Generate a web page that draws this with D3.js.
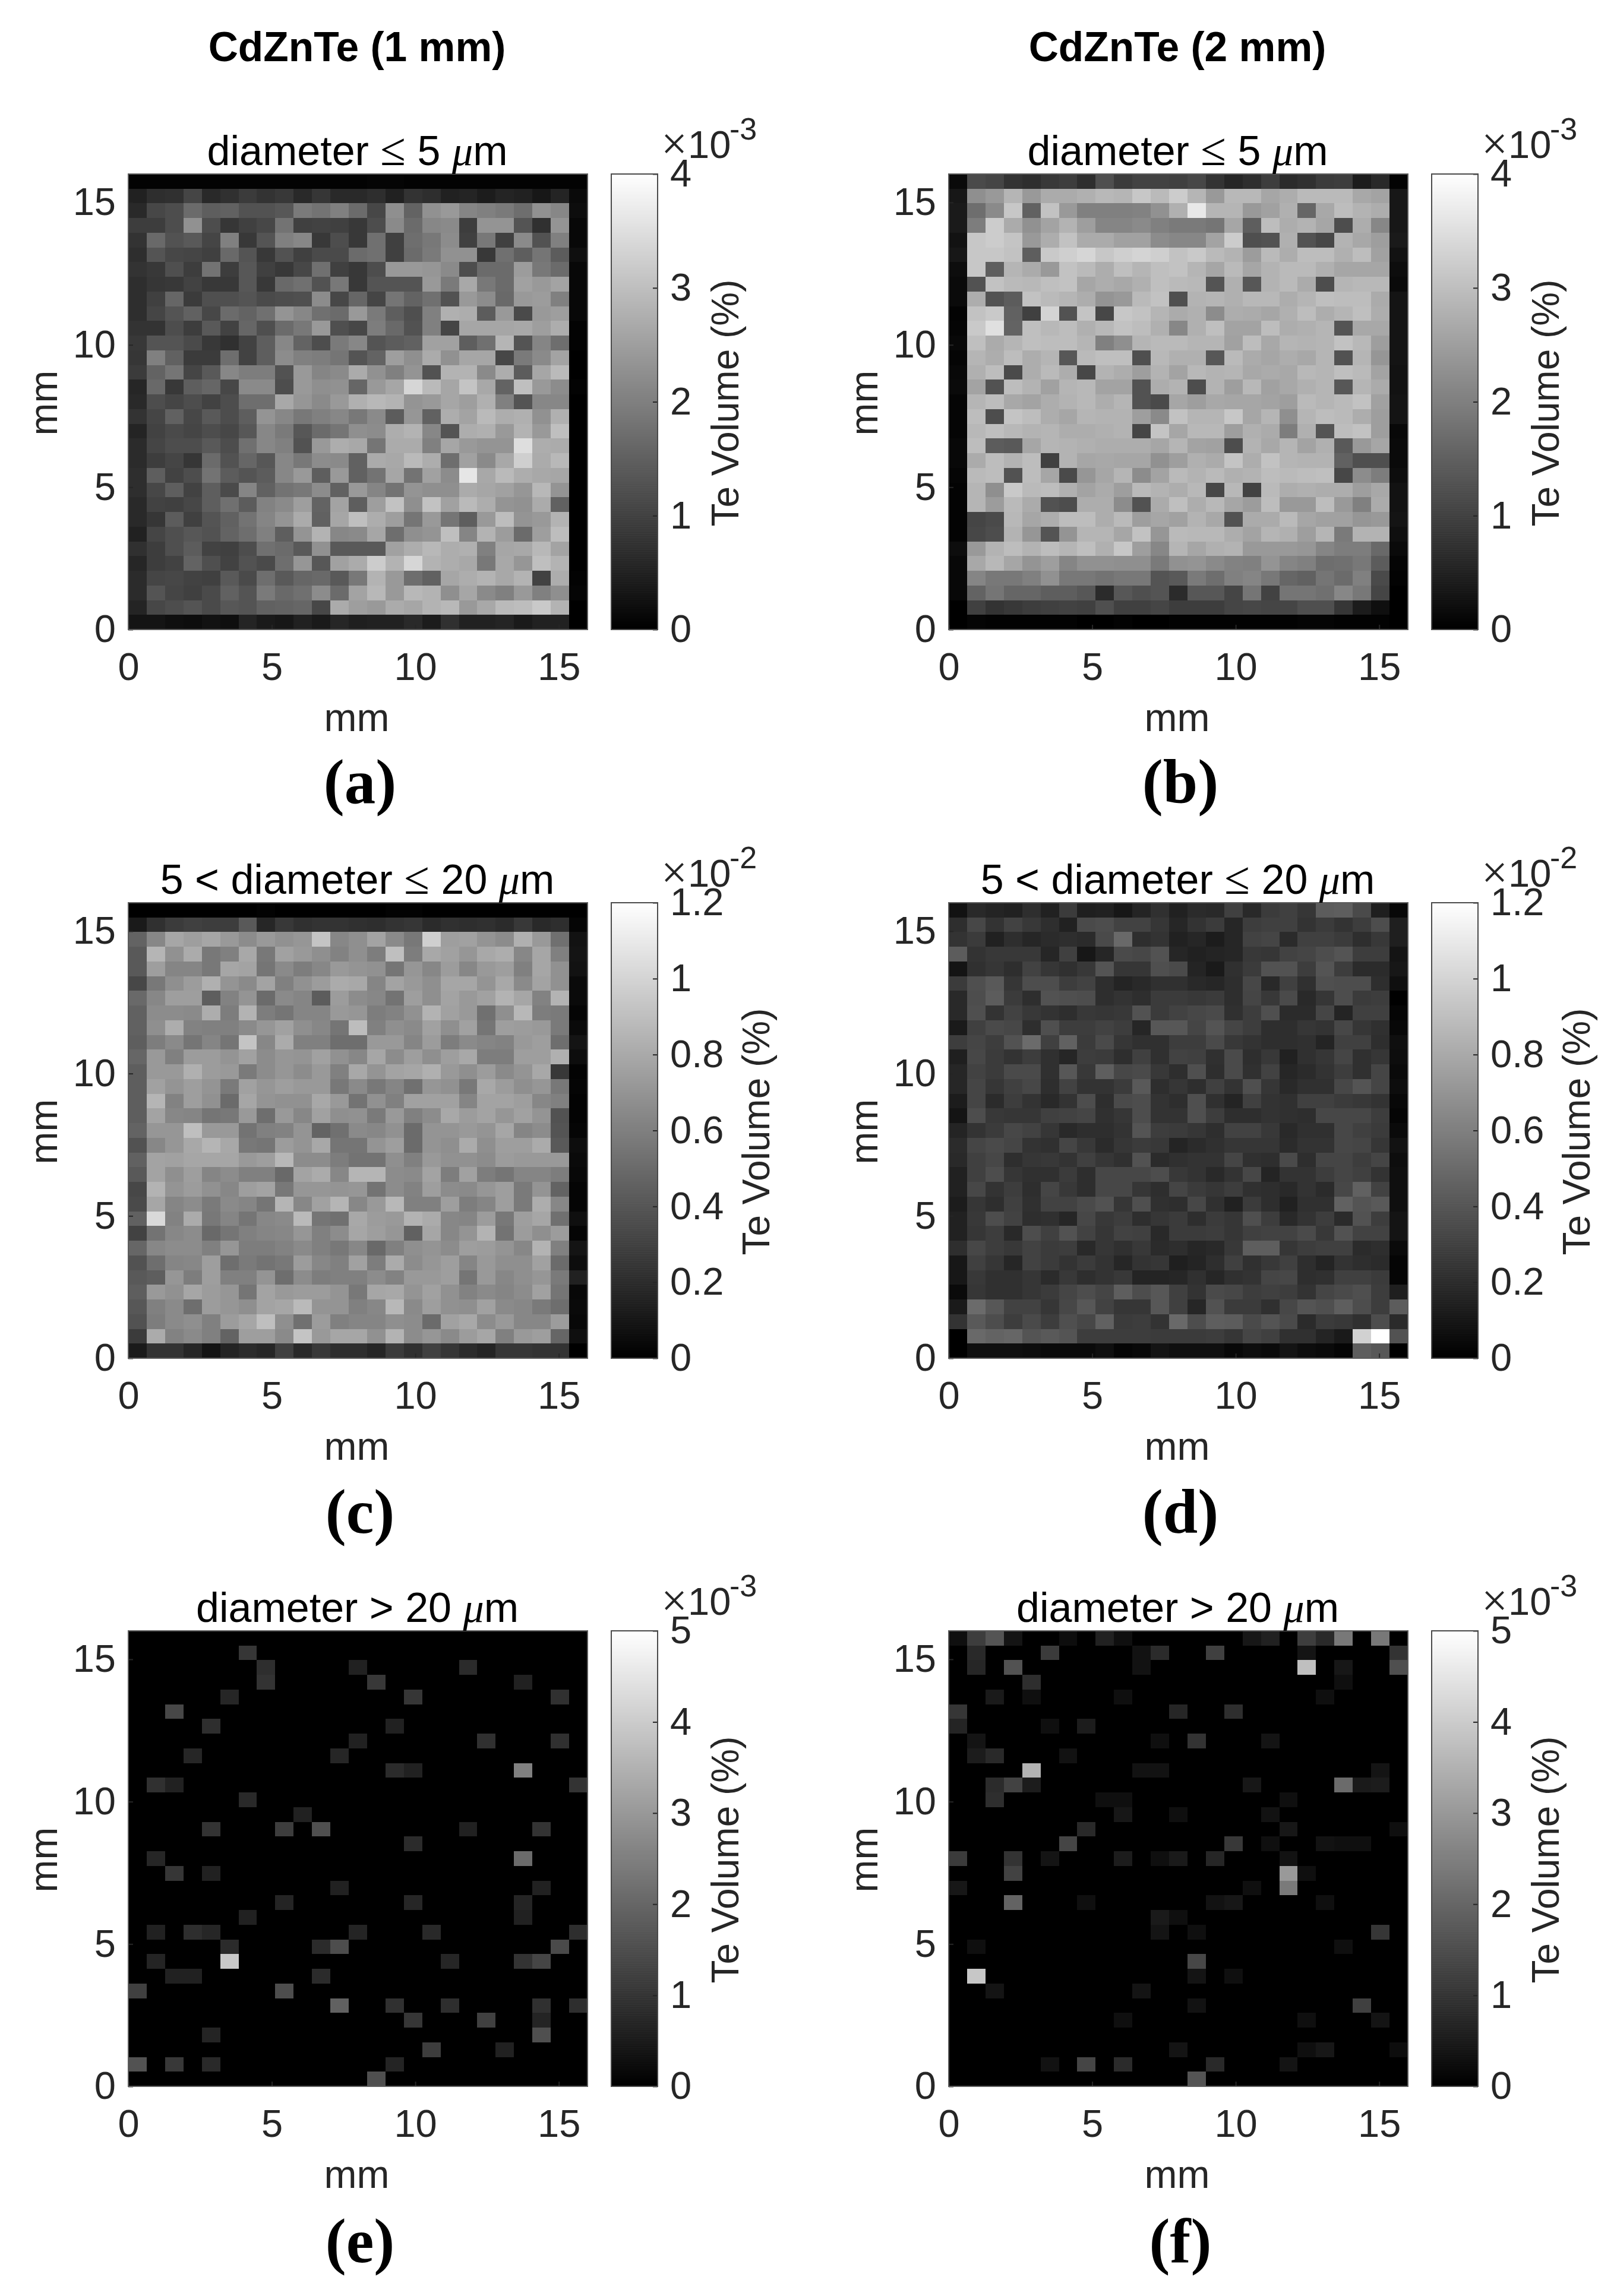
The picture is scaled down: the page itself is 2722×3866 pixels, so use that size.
<!DOCTYPE html>
<html><head><meta charset="utf-8">
<script src="https://cdn.jsdelivr.net/npm/d3@7/dist/d3.min.js"></script>
<style>html,body{margin:0;padding:0;background:#fff}svg{display:block}</style>
</head><body><svg id="chart" width="2722" height="3866"></svg>
<script>
// Every value is the shade, as a percentage of that panel's colorbar range.
const valuesA = [
[1,1,1,1,1,1,1,1,1,1,1,1,1,2,2,1,1,1,1,1,1,1,1,1,1],
[13,18,19,27,16,19,23,20,22,16,21,16,16,18,13,20,18,13,14,11,14,13,9,14,4],
[16,28,30,42,37,38,32,32,34,48,45,50,42,28,56,39,57,60,52,50,48,43,57,53,5],
[24,24,30,57,30,21,25,28,45,25,26,25,22,30,54,42,53,54,24,58,58,33,19,58,3],
[20,41,32,35,27,50,22,33,50,53,22,30,22,44,25,43,47,55,25,47,25,54,32,50,3],
[18,33,28,27,25,41,33,22,32,25,29,29,42,44,25,42,48,57,57,22,44,37,46,36,6],
[20,22,31,24,45,24,34,25,22,28,44,25,22,30,60,60,59,54,30,42,42,61,47,42,3],
[18,21,22,26,22,22,34,22,41,44,32,47,22,33,33,33,60,48,66,47,42,63,60,64,3],
[18,25,40,23,31,31,33,29,30,31,55,28,40,27,46,39,44,32,60,55,41,60,61,50,3],
[18,27,33,38,28,42,39,44,58,53,44,42,60,48,37,31,50,69,68,36,60,29,60,62,3],
[20,20,30,24,35,26,40,31,42,47,60,31,28,49,41,32,50,27,65,65,65,66,62,68,1],
[22,33,33,29,22,19,26,37,53,39,30,48,53,33,36,38,63,63,37,44,71,33,52,43,1],
[21,50,38,23,23,43,26,37,55,50,49,46,33,39,62,56,67,57,65,65,28,48,54,64,0],
[23,39,46,27,35,53,49,49,32,60,52,54,67,57,50,58,32,70,70,54,68,36,65,73,0],
[15,41,22,37,40,28,54,54,30,60,56,57,40,60,65,84,73,65,77,66,39,75,60,55,1],
[16,30,27,30,26,30,43,43,66,59,54,60,69,72,70,58,60,65,62,69,50,33,53,53,0],
[20,27,38,28,35,30,37,58,53,47,50,53,47,54,36,59,38,68,64,73,68,69,57,69,0],
[14,26,29,27,30,28,34,53,48,34,42,46,56,55,68,70,53,33,68,69,60,70,60,75,0],
[17,27,30,30,35,30,44,53,50,32,60,68,66,46,67,67,50,65,60,58,58,87,68,67,0],
[17,24,27,21,42,32,40,34,53,47,55,54,38,67,66,73,68,43,63,54,66,81,67,72,0],
[18,37,26,30,45,36,33,36,53,60,37,60,38,45,65,45,63,55,90,66,73,68,66,65,0],
[18,28,37,26,37,29,52,38,45,47,55,38,60,52,45,58,56,56,67,65,63,59,72,58,0],
[16,26,25,28,37,44,36,51,54,62,39,64,37,62,76,56,76,63,73,68,58,57,67,38,0],
[16,21,36,25,33,38,45,52,58,67,38,65,75,68,62,46,60,46,37,60,74,58,60,70,0],
[13,27,31,34,32,39,43,50,37,58,70,53,54,65,43,56,58,75,52,70,61,42,62,74,0],
[19,24,31,36,26,25,30,44,42,35,57,35,35,35,63,68,72,68,69,50,65,66,72,64,0],
[15,24,26,39,31,26,32,29,43,59,34,63,67,80,70,84,70,68,66,47,66,59,75,70,0],
[17,27,28,26,25,35,29,43,35,40,41,35,47,70,60,43,38,65,68,70,66,70,26,68,1],
[17,33,27,25,29,38,33,48,41,44,55,42,64,72,60,72,70,56,65,54,50,60,50,56,2],
[14,28,30,33,29,34,33,38,39,40,28,67,62,60,67,65,70,72,60,66,73,74,79,70,0],
[8,8,6,5,7,6,14,10,9,13,10,15,12,13,13,16,11,19,13,13,14,10,13,13,0]];
const valuesB = [
[4,29,27,20,18,22,24,18,31,23,26,26,25,28,20,15,18,24,17,19,23,24,11,16,1],
[9,56,60,71,60,67,67,69,72,71,78,73,80,71,60,72,72,65,68,73,73,73,66,64,9],
[10,43,54,78,38,76,60,50,50,50,51,57,69,91,71,71,60,63,69,40,66,74,70,68,9],
[10,49,80,67,57,64,70,62,52,52,54,50,48,48,46,65,37,74,68,70,65,30,68,53,9],
[7,78,80,77,60,68,76,67,67,63,63,55,53,53,64,80,31,32,69,32,28,70,66,62,10],
[9,78,78,76,37,79,81,84,78,81,83,81,76,79,73,70,61,73,68,74,74,69,74,63,7],
[5,78,37,71,67,60,76,73,68,75,71,75,76,71,65,73,65,70,73,73,69,65,65,65,5],
[4,32,76,73,72,75,76,65,68,66,69,75,73,72,33,69,34,70,73,67,30,71,72,72,4],
[4,68,32,36,76,73,71,68,58,60,73,76,31,70,71,69,72,72,68,71,75,74,74,67,8],
[1,76,79,38,25,83,32,77,28,78,76,71,67,69,55,68,67,65,69,74,68,71,75,68,8],
[2,79,88,39,75,72,74,69,72,76,74,69,53,69,75,64,64,74,68,69,71,33,66,66,8],
[3,75,67,71,75,74,74,71,50,56,71,73,73,71,71,63,74,66,71,70,71,76,72,62,8],
[2,71,68,74,68,71,34,73,75,75,31,72,69,69,34,73,67,65,68,66,71,32,71,59,8],
[3,69,74,29,68,73,68,28,70,68,62,70,64,72,70,71,66,67,66,72,71,75,73,64,7],
[4,64,32,74,70,63,71,72,64,64,32,68,70,30,70,62,72,63,66,69,71,34,71,67,7],
[2,71,74,66,64,68,70,72,68,71,32,29,65,62,66,65,65,64,62,73,71,73,76,63,8],
[2,74,30,77,74,68,65,71,70,70,62,54,76,71,71,78,65,71,56,71,74,73,68,62,8],
[2,72,75,72,70,71,68,68,69,70,27,77,65,72,72,62,69,67,49,69,33,74,76,62,3],
[3,74,36,35,65,71,70,69,68,68,68,65,71,64,63,30,70,66,71,64,69,35,60,65,4],
[3,67,74,70,74,25,70,65,66,65,65,57,62,69,67,77,68,76,71,70,70,38,31,31,4],
[2,73,74,32,74,65,29,59,65,71,55,64,73,70,73,69,70,74,73,74,75,28,55,49,5],
[1,71,56,79,73,74,69,64,67,62,73,70,68,72,28,72,26,73,68,69,68,68,62,66,7],
[1,71,61,73,67,32,30,68,68,55,32,67,75,68,72,65,61,74,60,60,74,60,50,67,7],
[1,27,29,72,65,68,74,74,68,73,62,65,63,70,66,32,67,67,73,65,63,63,59,60,8],
[1,28,30,70,59,33,58,71,71,65,76,59,73,72,72,68,64,71,69,62,71,48,70,70,6],
[5,60,70,74,70,74,71,75,69,78,62,53,71,65,69,70,60,60,60,59,52,49,49,41,4],
[3,66,72,65,58,62,52,57,57,56,56,48,57,58,54,51,50,58,52,50,43,44,47,36,2],
[3,52,47,47,50,57,47,47,45,47,47,33,35,48,43,50,52,47,40,38,46,42,50,29,1],
[3,39,46,40,40,37,37,34,17,34,31,33,17,34,34,27,46,26,46,46,44,53,47,27,0],
[0,25,20,22,24,25,26,25,31,25,25,27,24,24,24,27,28,27,27,31,31,21,11,6,0],
[0,2,1,1,1,1,1,0,0,1,0,0,1,1,1,1,1,1,1,2,2,1,1,1,0]];
const valuesC = [
[0,0,0,0,0,0,0,1,0,0,0,0,0,0,1,1,0,0,0,0,0,0,0,0,0],
[10,19,23,25,24,24,35,15,22,19,20,20,19,18,20,21,17,19,18,19,17,22,16,18,2],
[39,53,65,62,65,60,55,60,57,59,77,53,56,64,54,47,81,62,63,58,55,69,60,44,7],
[35,71,57,67,47,50,66,47,63,60,56,51,56,49,75,49,66,63,59,66,68,53,65,50,8],
[35,62,52,52,47,65,64,46,54,49,53,60,58,57,46,59,53,61,53,60,62,50,65,57,7],
[28,47,56,61,69,58,54,64,50,57,61,67,66,52,64,60,56,65,65,58,66,54,64,57,4],
[41,53,62,62,37,51,58,42,54,52,36,61,55,53,45,62,56,64,60,63,70,65,51,70,4],
[38,55,55,54,68,49,70,49,46,52,52,60,59,49,51,57,70,63,60,44,56,72,49,48,2],
[38,56,68,51,50,50,54,59,63,56,53,46,74,50,56,54,63,56,63,46,62,61,60,48,4],
[37,49,54,46,52,46,77,53,67,50,50,43,43,60,60,52,61,49,54,52,51,60,62,43,8],
[40,60,50,61,61,58,63,55,59,58,63,57,53,65,55,62,56,62,66,49,49,62,62,69,5],
[37,60,60,69,61,60,48,55,59,55,60,50,66,58,64,65,69,60,56,61,54,58,66,22,1],
[37,63,58,62,58,48,63,59,62,60,60,47,54,47,52,44,59,57,47,66,61,56,59,47,2],
[37,71,51,62,57,42,65,58,57,57,66,60,45,57,50,63,63,63,52,64,64,62,53,50,1],
[37,64,53,52,46,47,60,43,60,53,63,56,57,48,60,50,55,66,61,64,59,63,58,32,1],
[39,59,59,75,60,60,45,50,51,58,39,44,54,53,57,42,58,58,60,58,65,52,55,33,2],
[32,53,59,66,71,66,47,46,61,58,66,46,46,58,62,42,58,56,67,56,62,62,67,35,5],
[38,64,63,65,65,65,60,62,72,55,55,49,45,45,56,50,60,57,57,55,61,60,60,60,4],
[35,64,56,62,52,55,50,50,41,64,67,53,71,71,55,54,64,49,63,49,46,52,52,49,3],
[28,70,58,61,57,53,62,64,47,59,59,58,59,45,55,51,62,55,54,59,62,48,58,39,2],
[29,65,52,55,48,54,52,46,71,53,63,71,53,60,72,50,50,62,49,52,62,48,68,53,2],
[38,85,51,67,47,52,46,53,54,73,46,44,66,61,60,70,67,53,52,61,47,62,65,44,6],
[26,45,53,55,41,46,50,52,53,59,50,55,65,62,59,38,65,53,58,70,45,61,56,61,2],
[40,53,55,55,50,59,49,49,51,54,50,47,53,41,50,56,58,55,62,61,58,53,70,50,8],
[32,43,52,53,62,43,48,45,47,61,53,50,63,49,67,55,59,62,52,60,56,56,63,42,5],
[35,37,59,49,62,50,50,58,43,55,49,50,50,55,51,60,60,62,46,60,53,56,59,48,13],
[37,60,57,65,61,59,46,64,60,61,61,58,47,65,66,58,63,57,51,54,52,55,63,46,3],
[34,50,54,43,61,59,56,64,65,73,58,58,50,53,72,54,62,57,56,63,54,53,48,43,4],
[32,49,54,56,50,61,65,75,56,44,61,50,52,52,56,55,42,63,66,55,60,53,53,61,3],
[23,67,51,54,50,39,62,62,54,77,60,65,65,57,70,55,59,54,61,65,50,60,62,40,6],
[10,20,20,15,8,14,17,15,25,16,22,18,18,15,23,19,25,21,17,14,21,21,20,20,0]];
const valuesD = [
[7,16,14,13,18,13,23,12,13,9,14,19,13,17,16,25,16,23,25,21,36,37,29,12,3],
[18,28,20,26,22,18,13,29,30,26,26,21,15,20,23,15,24,25,25,20,23,20,24,30,12],
[20,23,13,18,15,17,18,17,29,41,18,20,13,15,11,15,26,27,17,25,25,23,18,22,12],
[36,20,22,22,22,15,25,9,15,29,28,32,15,13,14,15,22,21,26,27,30,33,24,24,8],
[8,19,21,18,26,21,19,22,33,21,21,31,29,14,10,19,23,32,32,24,33,24,17,17,9],
[23,31,35,21,30,30,24,26,18,14,16,19,19,16,15,18,28,16,25,19,31,30,30,18,6],
[16,30,36,23,18,32,31,30,18,20,18,23,23,22,23,18,27,22,29,16,21,30,23,24,0],
[16,31,20,26,22,20,18,22,21,22,32,23,26,28,29,19,24,31,17,17,27,14,25,25,2],
[10,25,29,28,18,31,24,24,26,24,15,34,34,27,33,27,24,18,18,21,20,28,21,19,3],
[24,27,24,32,42,25,38,23,29,21,19,19,24,24,29,22,20,18,18,19,14,25,25,18,6],
[12,28,23,20,24,19,15,24,23,18,25,19,26,25,19,29,18,22,13,19,21,27,19,21,5],
[15,26,23,29,29,19,34,22,37,28,29,22,18,31,18,29,19,26,15,17,20,24,19,27,4],
[15,27,21,25,28,18,26,20,20,23,35,18,21,18,25,20,31,21,16,19,19,28,33,27,5],
[11,27,17,24,20,16,20,30,18,29,30,20,18,31,19,14,25,20,19,25,25,23,22,20,3],
[8,30,22,21,21,25,26,27,19,21,30,20,20,31,24,18,18,20,19,18,28,28,28,24,2],
[14,20,23,28,26,21,16,18,18,20,33,24,23,21,18,26,26,22,16,19,19,28,25,23,4],
[17,27,29,27,20,19,27,22,17,21,23,22,14,17,19,21,21,21,17,20,20,28,27,21,7],
[16,25,28,18,21,22,20,25,21,19,32,17,19,20,20,27,19,18,29,18,27,27,24,27,5],
[13,25,30,21,19,19,23,18,28,28,28,30,22,20,16,20,28,14,20,20,24,27,25,20,6],
[13,28,20,24,18,27,22,18,28,28,21,18,27,23,21,24,19,18,16,20,17,28,38,26,6],
[11,21,18,25,19,26,26,29,32,21,31,19,18,28,19,13,23,18,13,19,19,38,33,35,6],
[13,22,30,26,18,19,15,28,22,24,18,21,23,18,23,21,31,24,16,20,24,17,32,24,8],
[13,21,24,16,30,25,32,26,21,26,25,16,23,23,24,21,25,26,26,29,22,32,26,26,8],
[18,28,24,22,26,23,24,16,21,19,22,17,18,15,16,22,37,37,21,24,25,25,17,18,4],
[9,25,21,15,26,23,20,23,20,15,20,21,12,14,18,25,19,22,25,18,14,20,18,17,2],
[9,22,19,19,21,17,22,18,20,22,14,14,15,19,15,19,20,27,28,18,19,25,25,23,2],
[4,21,19,19,21,23,27,30,27,37,30,34,25,20,29,28,24,25,24,20,27,29,31,24,12],
[10,42,34,26,26,21,28,34,26,21,21,34,25,15,32,23,23,19,28,33,31,37,30,24,36],
[20,35,30,24,29,24,31,28,38,23,24,20,41,30,37,36,29,33,29,17,23,22,19,30,17],
[0,41,39,40,33,35,33,24,24,24,24,23,23,23,24,21,27,25,19,19,14,10,82,100,32],
[0,6,6,6,5,4,4,4,6,2,3,8,6,6,6,3,5,4,8,5,4,2,37,34,0]];
// Sparse panels: [row from top, column from left, shade]. All other cells read as 0.
const sparseE = [[1,6,21],[2,7,18],[2,12,13],[2,18,17],[3,7,20],[3,13,22],[3,21,13],[4,5,15],[4,15,21],[4,23,19],[5,2,28],[6,4,18],[6,14,13],[7,12,13],[7,19,19],[7,23,19],[8,3,15],[8,11,15],[9,14,17],[9,15,13],[9,21,50],[10,1,19],[10,2,13],[10,24,20],[11,6,16],[12,9,13],[13,4,20],[13,8,24],[13,10,31],[13,18,13],[13,22,20],[14,15,17],[15,1,15],[15,21,42],[16,2,21],[16,4,13],[17,11,13],[17,22,13],[18,8,14],[18,15,15],[18,21,14],[19,6,13],[19,21,13],[20,1,13],[20,3,18],[20,4,15],[20,12,14],[20,16,16],[20,24,18],[21,5,17],[21,10,17],[21,11,30],[21,23,29],[22,1,14],[22,5,79],[22,17,15],[22,21,20],[22,22,27],[23,2,13],[23,3,13],[23,10,17],[24,0,25],[24,8,30],[25,11,38],[25,14,19],[25,17,18],[25,22,19],[25,24,18],[26,15,21],[26,19,25],[26,22,14],[27,4,14],[27,22,31],[28,16,24],[28,20,13],[29,0,32],[29,2,22],[29,4,16],[29,14,14],[30,13,31]];
const sparseF = [[0,0,6],[0,1,24],[0,2,33],[0,3,8],[0,6,5],[0,8,13],[0,9,6],[0,16,9],[0,17,13],[0,19,24],[0,20,16],[0,21,47],[0,23,47],[1,1,16],[1,5,23],[1,10,7],[1,11,17],[1,14,25],[1,19,8],[1,24,20],[2,1,15],[2,3,32],[2,10,7],[2,19,75],[2,21,9],[2,24,31],[3,4,18],[3,21,6],[4,2,10],[4,4,6],[4,9,6],[4,20,6],[5,0,21],[5,12,15],[5,15,18],[6,0,14],[6,5,6],[6,7,11],[7,1,8],[7,11,6],[7,13,20],[7,17,8],[8,1,11],[8,2,16],[8,6,7],[9,4,70],[9,10,7],[9,11,7],[9,23,8],[10,2,17],[10,3,26],[10,4,11],[10,16,9],[10,21,42],[10,22,10],[10,23,11],[11,2,18],[11,8,6],[11,9,6],[11,18,6],[12,9,9],[12,12,6],[12,17,7],[13,7,16],[13,18,9],[13,24,6],[14,6,27],[14,15,22],[14,17,6],[14,20,7],[14,21,6],[14,22,6],[15,0,23],[15,3,20],[15,5,8],[15,9,11],[15,11,6],[15,12,10],[15,14,15],[15,18,7],[16,3,26],[16,18,60],[16,19,6],[17,0,9],[17,16,6],[17,18,48],[18,3,39],[18,7,6],[18,14,7],[18,15,9],[18,20,6],[19,11,10],[19,12,6],[20,11,8],[20,13,6],[20,23,21],[21,1,6],[21,21,6],[22,13,28],[23,1,78],[23,13,8],[23,15,6],[24,2,8],[24,10,8],[25,13,7],[25,22,25],[26,9,6],[26,19,6],[26,23,8],[28,12,8],[28,19,6],[28,20,9],[28,24,5],[29,5,7],[29,7,27],[29,9,17],[29,14,16],[29,18,8],[30,13,33]];

const mmTicks = [0, 5, 10, 15];
const colorbarTicksA = [0, 1, 2, 3, 4];
const colorbarTicksC = [0, 0.2, 0.4, 0.6, 0.8, 1, 1.2];
const colorbarTicksE = [0, 1, 2, 3, 4, 5];
const titleA = [["diameter ","s"],["≤","m"],[" 5 ","s"],["μ","i"],["m","s"]];
const titleC = [["5 < diameter ","s"],["≤","m"],[" 20 ","s"],["μ","i"],["m","s"]];
const titleE = [["diameter > 20 ","s"],["μ","i"],["m","s"]];
const NCOLS = 25, NROWS = 31, EXTENT = 16;

function fromSparse(list){
  const g = d3.range(NROWS).map(()=>d3.range(NCOLS).map(()=>0));
  list.forEach(([r,c,v])=>{g[r][c]=v;});
  return g;
}
const panels = [
 {letter:"(a)",col:0,row:0,grid:valuesA,title:titleA,max:4,ticks:colorbarTicksA,exp:"-3",labelX:1243},
 {letter:"(b)",col:1,row:0,grid:valuesB,title:titleA,max:4,ticks:colorbarTicksA,exp:"-3",labelX:1243},
 {letter:"(c)",col:0,row:1,grid:valuesC,title:titleC,max:1.2,ticks:colorbarTicksC,exp:"-2",labelX:1295},
 {letter:"(d)",col:1,row:1,grid:valuesD,title:titleC,max:1.2,ticks:colorbarTicksC,exp:"-2",labelX:1295},
 {letter:"(e)",col:0,row:2,grid:fromSparse(sparseE),title:titleE,max:5,ticks:colorbarTicksE,exp:"-3",labelX:1243},
 {letter:"(f)",col:1,row:2,grid:fromSparse(sparseF),title:titleE,max:5,ticks:colorbarTicksE,exp:"-3",labelX:1243}
];
const SANS = '"Liberation Sans", Arial, sans-serif', SERIF = '"Liberation Serif", "Times New Roman", serif';
const INK = "#262626";
const colX = [216, 1597], rowY = [293, 1520, 2746], W = 773, H = 767;
const letterBase = [1352, 2581, 3809], letterX = [606, 1987];
const shade = d3.scaleLinear().domain([0,100]).range(["#000000","#ffffff"]);
const svg = d3.select("#chart");

[["CdZnTe (1 mm)",601],["CdZnTe (2 mm)",1982]].forEach(([t,x])=>{
  svg.append("text").attr("x",x).attr("y",103).attr("text-anchor","middle")
    .attr("font-family",SANS).attr("font-weight","bold").attr("font-size",69.5).attr("fill","#000").text(t);
});

panels.forEach(p=>{
  const ox = colX[p.col], oy = rowY[p.row];
  const g = svg.append("g").attr("transform",`translate(${ox},${oy})`);
  const x = d3.scaleLinear().domain([0,EXTENT]).range([0,W]);
  const y = d3.scaleLinear().domain([0,EXTENT]).range([H,0]);
  const dx = EXTENT/NCOLS, dy = EXTENT/NROWS;
  const cells = p.grid.flatMap((row,r)=>row.map((v,c)=>({r,c,v})));
  g.append("g").selectAll("rect").data(cells).join("rect")
    .attr("x",d=>Math.round(x(d.c*dx)))
    .attr("width",d=>Math.round(x((d.c+1)*dx))-Math.round(x(d.c*dx)))
    .attr("y",d=>Math.round(y(EXTENT-d.r*dy)))
    .attr("height",d=>Math.round(y(EXTENT-(d.r+1)*dy))-Math.round(y(EXTENT-d.r*dy)))
    .attr("fill",d=>shade(d.v)).attr("shape-rendering","crispEdges");

  const style = s=>{
    s.select(".domain").remove();
    s.selectAll("line").attr("stroke",INK).attr("stroke-width",2);
    s.selectAll("text").attr("font-family",SANS).attr("font-size",65).attr("fill",INK);
  };
  g.append("g").attr("transform",`translate(0,${H})`)
    .call(d3.axisBottom(x).tickValues(mmTicks).tickSizeInner(-8).tickSizeOuter(0).tickPadding(39).tickFormat(d3.format("d"))).call(style);
  g.append("g").call(d3.axisLeft(y).tickValues(mmTicks).tickSizeInner(-8).tickSizeOuter(0).tickPadding(21).tickFormat(d3.format("d"))).call(style);
  g.append("rect").attr("x",0).attr("y",0).attr("width",W).attr("height",H)
    .attr("fill","none").attr("stroke","#5c5c5c").attr("stroke-width",2);

  // title
  const title = g.append("text").attr("x",W/2-1).attr("y",-15).attr("text-anchor","middle")
    .attr("font-family",SANS).attr("font-size",70).attr("fill","#000");
  p.title.forEach(([t,k])=>{
    const ts = title.append("tspan").text(t).style("white-space","pre");
    if(k==="m") ts.attr("font-family",SERIF).attr("font-size",78);
    if(k==="i") ts.attr("font-family",SERIF).attr("font-style","italic");
  });

  // axis labels
  g.append("text").attr("x",W/2-2).attr("y",938).attr("text-anchor","middle")
    .attr("font-family",SANS).attr("font-size",66).attr("fill",INK).text("mm");
  g.append("text").attr("transform",`translate(-120,${H/2+2}) rotate(-90)`).attr("text-anchor","middle")
    .attr("font-family",SANS).attr("font-size",66).attr("fill",INK).text("mm");

  // panel letter
  svg.append("text").attr("x",letterX[p.col]).attr("y",letterBase[p.row]).attr("text-anchor","middle")
    .attr("font-family",SERIF).attr("font-weight","bold").attr("font-size",105).attr("fill","#000").text(p.letter);

  // colorbar
  const cbX = 813, cbW = 78;
  const cb = g.append("g").attr("transform",`translate(${cbX},0)`);
  const cy = d3.scaleLinear().domain([0,p.max]).range([H,0]);
  const cbShade = d3.scaleLinear().domain([0,p.max]).range(["#000000","#ffffff"]);
  const steps = d3.range(256).map(i=>i/256*p.max);
  const stepH = p.max/256;
  cb.selectAll("rect.s").data(steps).join("rect").attr("class","s")
    .attr("x",0).attr("width",cbW)
    .attr("y",d=>cy(d+stepH)).attr("height",d=>cy(d)-cy(d+stepH)+0.6)
    .attr("fill",d=>cbShade(d));
  cb.append("g").attr("transform",`translate(${cbW},0)`)
    .call(d3.axisRight(cy).tickValues(p.ticks).tickSizeInner(-8).tickSizeOuter(0).tickPadding(21).tickFormat(d=>String(d))).call(style);
  cb.append("rect").attr("x",0).attr("y",0).attr("width",cbW).attr("height",H)
    .attr("fill","none").attr("stroke","#4a4a4a").attr("stroke-width",2);

  // colorbar exponent
  const ex = cbX + 84;
  g.append("text").attr("x",ex).attr("y",-25).attr("font-family",SERIF).attr("font-size",78).attr("fill",INK).text("×");
  g.append("text").attr("x",ex+45).attr("y",-27).attr("font-family",SANS).attr("font-size",65).attr("fill",INK).text("10");
  g.append("text").attr("x",ex+115).attr("y",-58).attr("font-family",SANS).attr("font-size",52).attr("fill",INK).text(p.exp);
  // colorbar label
  g.append("text").attr("transform",`translate(${p.labelX-216},${H/2+2}) rotate(-90)`).attr("text-anchor","middle")
    .attr("font-family",SANS).attr("font-size",64).attr("fill",INK).text("Te Volume (%)");
});
</script></body></html>
